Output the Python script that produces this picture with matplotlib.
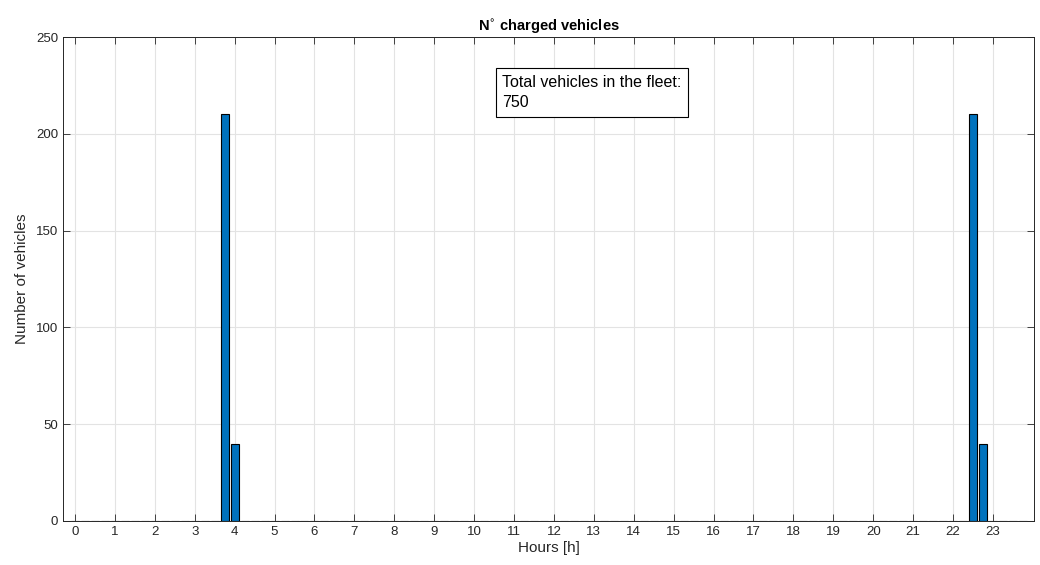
import matplotlib.pyplot as plt
import numpy as np

plt.rcParams['font.family'] = ['Liberation Sans', 'DejaVu Sans']

# 15-minute time slots over a day
hours = np.arange(0, 24, 0.25)
vehicles = [0, 0, 0, 0, 0, 0, 0, 0, 0, 0, 0, 0, 0, 0, 0, 210,
            40, 0, 0, 0, 0, 0, 0, 0, 0, 0, 0, 0, 0, 0, 0, 0,
            0, 0, 0, 0, 0, 0, 0, 0, 0, 0, 0, 0, 0, 0, 0, 0,
            0, 0, 0, 0, 0, 0, 0, 0, 0, 0, 0, 0, 0, 0, 0, 0,
            0, 0, 0, 0, 0, 0, 0, 0, 0, 0, 0, 0, 0, 0, 0, 0,
            0, 0, 0, 0, 0, 0, 0, 0, 0, 0, 210, 40, 0, 0, 0, 0]
fleet_size = 750
x_ticks = list(range(24))

fig = plt.figure(figsize=(10.4, 5.65), dpi=100)
ax = fig.add_axes([0.0606, 0.0779, 0.9337, 0.8566])

ax.bar(hours, vehicles, width=0.2, color='#0072BD', edgecolor='black',
       linewidth=0.8, zorder=3)

ax.set_xlim(-0.3, 24.03)
ax.set_ylim(0, 250)
ax.set_xticks(x_ticks)
ax.set_yticks([0, 50, 100, 150, 200, 250])
ax.tick_params(direction='in', top=True, right=True, length=5, width=0.6,
               colors='#262626', labelsize=9.5)
ax.grid(True, color='#e3e3e3', linewidth=0.8, zorder=0)
ax.set_axisbelow(True)
for s in ax.spines.values():
    s.set_color('#262626')
    s.set_linewidth(0.7)

ax.set_title('N$^{\\circ}$ charged vehicles', fontsize=10.5, fontweight='bold', pad=4)
ax.set_xlabel('Hours [h]', fontsize=11, color='#262626', labelpad=2)
ax.set_ylabel('Number of vehicles', fontsize=11, color='#262626', labelpad=5)

ax.text(10.71, 230.5, 'Total vehicles in the fleet:\n%d' % fleet_size, fontsize=11.5,
        va='top', ha='left', zorder=5, linespacing=1.45,
        bbox=dict(boxstyle='square,pad=0.4', facecolor='white', edgecolor='black', linewidth=0.8))

fig.savefig('out.png', dpi=100)
